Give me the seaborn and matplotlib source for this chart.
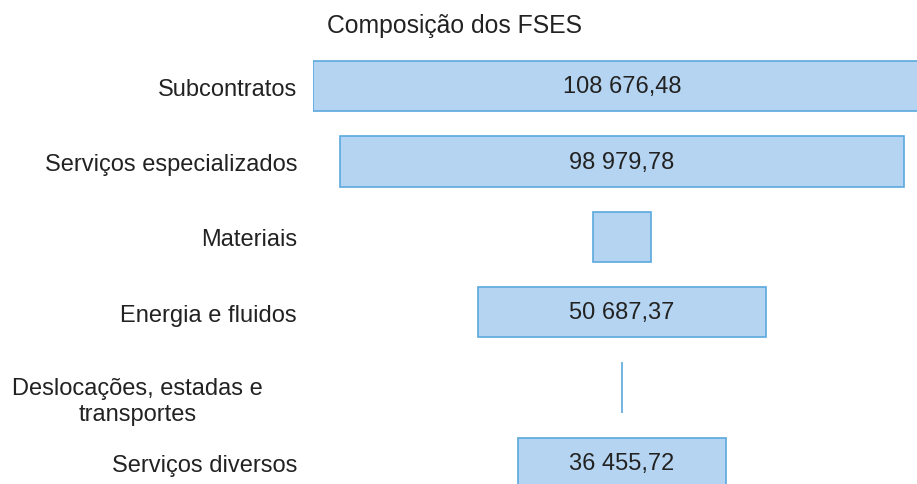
import matplotlib
matplotlib.use("Agg")
import matplotlib.pyplot as plt
import matplotlib.transforms as mtransforms
import pandas as pd
import seaborn as sns

categories = ["Subcontratos", "Serviços especializados", "Materiais",
              "Energia e fluidos", "Deslocações, estadas e\ntransportes",
              "Serviços diversos"]
values = [108676.48, 98979.78, 10200.00, 50687.37, 150.00, 36455.72]
value_labels = ["108 676,48", "98 979,78", "", "50 687,37", "", "36 455,72"]

df = pd.DataFrame({"categoria": categories, "valor": values})

sns.set_theme(style="white")
plt.rcParams["font.family"] = ["Liberation Sans", "DejaVu Sans"]

fig = plt.figure(figsize=(9.17, 4.85), dpi=100)
ax = fig.add_axes([313 / 917, 0, 1 - 313 / 917, (485 - 49.6) / 485])

sns.barplot(data=df, x="valor", y="categoria", orient="h", ax=ax,
            color="#b5d4f1", saturation=1, width=0.667,
            edgecolor="#5aa8de", linewidth=1.2)

# centre each bar to get the funnel shape
for p in ax.patches:
    p.set_x(-p.get_width() / 2)

for i, txt in enumerate(value_labels):
    if txt:
        ax.text(0, i, txt, ha="center", va="center", fontsize=17, color="#222222")

ax.set_xlim(-54306, 51845)
ax.set_ylim(5.28, -0.5)
ax.set_xlabel("")
ax.set_ylabel("")
ax.set_xticks([])
ax.tick_params(axis="y", length=0, pad=11.5, labelsize=17, labelcolor="#222222")
sns.despine(ax=ax, left=True, bottom=True)

for lab in ax.get_yticklabels():
    if lab.get_text().startswith("Desloca"):
        lab.set_multialignment("center")
        lab.set_linespacing(1.25)
        lab.set_transform(lab.get_transform() +
                          mtransforms.ScaledTranslation(-34 / 100, -9 / 100, fig.dpi_scale_trans))

fig.text(327 / 917, 1 - 26 / 485, "Composição dos FSES", ha="left", va="center",
         fontsize=17.8, color="#222222")

fig.savefig("out.png", dpi=100)
